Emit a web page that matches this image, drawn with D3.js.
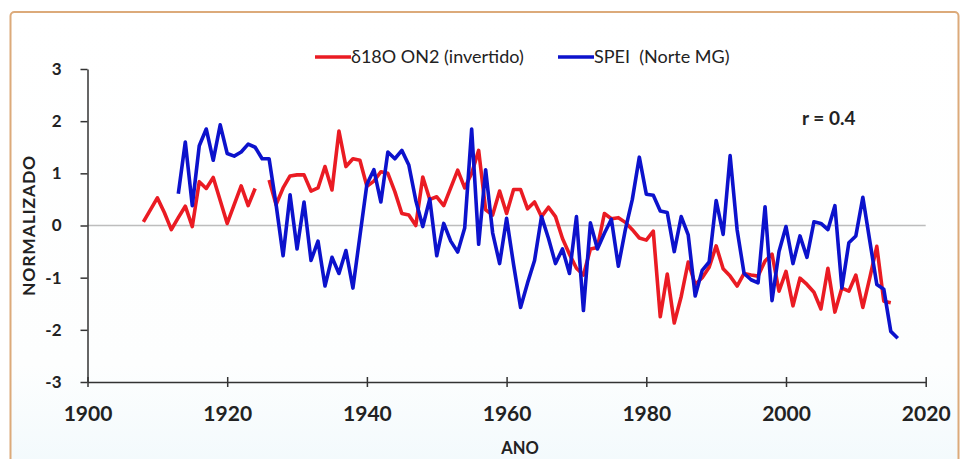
<!DOCTYPE html>
<html>
<head>
<meta charset="utf-8">
<script src="https://cdn.jsdelivr.net/npm/d3@7"></script>
<style>
	body { margin: 0; background: #fff; }
	text { font-family: Lato, "Open Sans", sans-serif; fill: #222; }
</style>
</head>
<body>
<div id="chart"></div>
<script>
// anos e series (valores normalizados)
var redYears = d3.range(1908, 2016);
var redValues = [
	0.07, 0.3, 0.53, 0.25, -0.08, 0.15, 0.37, -0.02, 0.84, 0.71,
	0.92, 0.48, 0.04, 0.4, 0.76, 0.38, 0.71, null, 0.87, 0.4,
	0.72, 0.95, 0.97, 0.97, 0.66, 0.72, 1.13, 0.68, 1.81, 1.13,
	1.28, 1.25, 0.75, 0.85, 1.03, 1.0, 0.65, 0.23, 0.2, 0.0,
	0.93, 0.5, 0.55, 0.38, 0.72, 1.06, 0.72, 1.0, 1.44, 0.3,
	0.2, 0.66, 0.23, 0.69, 0.69, 0.32, 0.45, 0.17, 0.35, 0.17,
	-0.25, -0.55, -0.82, -0.95, -0.45, -0.42, 0.23, 0.13, 0.15, 0.06,
	-0.08, -0.24, -0.28, -0.11, -1.75, -0.93, -1.87, -1.36, -0.7, -1.13,
	-1.0, -0.8, -0.39, -0.83, -0.97, -1.16, -0.92, -0.95, -0.97, -0.68,
	-0.55, -1.26, -0.88, -1.54, -1.01, -1.13, -1.28, -1.6, -0.82, -1.66,
	-1.2, -1.26, -0.95, -1.57, -1.0, -0.4, -1.45, -1.48
];
var blueYears = d3.range(1913, 2017);
var blueValues = [
	0.61, 1.6, 0.38, 1.53, 1.85, 1.25, 1.93, 1.38, 1.33, 1.41,
	1.56, 1.5, 1.28, 1.28, 0.4, -0.58, 0.59, -0.45, 0.45, -0.67,
	-0.3, -1.16, -0.61, -0.92, -0.48, -1.2, -0.2, 0.79, 1.07, 0.45,
	1.41, 1.28, 1.44, 1.16, 0.48, -0.02, 0.51, -0.58, 0.04, -0.3,
	-0.51, -0.05, 1.85, -0.36, 1.07, -0.14, -0.73, 0.14, -0.75, -1.57,
	-1.1, -0.67, 0.17, -0.25, -0.73, -0.45, -0.92, 0.17, -1.63, 0.05,
	-0.45, -0.15, 0.12, -0.78, -0.08, 0.5, 1.31, 0.6, 0.58, 0.28,
	0.25, -0.5, 0.17, -0.18, -1.35, -0.86, -0.7, 0.48, -0.17, 1.34,
	-0.08, -0.92, -1.04, -1.1, 0.36, -1.44, -0.5, -0.02, -0.73, -0.2,
	-0.61, 0.07, 0.04, -0.08, 0.38, -1.2, -0.33, -0.2, 0.54, -0.3,
	-1.13, -1.22, -2.03, -2.16
];
var xTicks = [1900, 1920, 1940, 1960, 1980, 2000, 2020];
var yTicks = [-3, -2, -1, 0, 1, 2, 3];
var seriesNames = ["\u03b418O ON2 (invertido)", "SPEI  (Norte MG)"];

var width = 961, height = 459;
var plotLeft = 87.5, plotRight = 925.7, plotTop = 69, plotBottom = 382;
var red = "#ea1b23", blue = "#0c12cc";

var svg = d3.select("#chart").append("svg")
	.attr("width", width)
	.attr("height", height);

var grad = svg.append("defs").append("linearGradient")
	.attr("id", "bg")
	.attr("x1", 0).attr("y1", 0).attr("x2", 0).attr("y2", 1);
grad.append("stop").attr("offset", "0%").attr("stop-color", "#ffffff");
grad.append("stop").attr("offset", "75%").attr("stop-color", "#fdfefe");
grad.append("stop").attr("offset", "100%").attr("stop-color", "#f1f9fc");

// area do grafico com borda
svg.append("rect")
	.attr("x", 10.5)
	.attr("y", 12)
	.attr("width", 948)
	.attr("height", 470)
	.attr("rx", 4)
	.attr("fill", "url(#bg)")
	.attr("stroke", "#dcaa7a")
	.attr("stroke-width", 2);

var x = d3.scaleLinear().domain([1900, 2020]).range([plotLeft, plotRight]);
var y = d3.scaleLinear().domain([-3, 3]).range([plotBottom, plotTop]);

// linha do zero
svg.append("line")
	.attr("x1", x(1900)).attr("x2", x(2020))
	.attr("y1", y(0)).attr("y2", y(0))
	.attr("stroke", "#bdbdbd")
	.attr("stroke-width", 1.5);

// hifen simples como no original (nao o sinal de menos unicode)
var plain = function(d) { return String(d); };

var yAxis = svg.append("g")
	.attr("transform", "translate(" + plotLeft + ",0)")
	.call(d3.axisLeft(y).tickValues(yTicks).tickSizeInner(7).tickSizeOuter(0)
		.tickPadding(19).tickFormat(plain));
yAxis.selectAll("text")
	.attr("font-size", 17)
	.attr("font-weight", 700)
	.attr("fill", "#222");

var xAxis = svg.append("g")
	.attr("transform", "translate(0," + plotBottom + ")")
	.call(d3.axisBottom(x).tickValues(xTicks).tickSizeInner(5).tickSizeOuter(0)
		.tickPadding(19).tickFormat(plain));
xAxis.selectAll(".tick line").attr("y1", -5);
xAxis.selectAll("text")
	.attr("font-size", 21)
	.attr("font-weight", 700)
	.attr("fill", "#222");

svg.selectAll(".domain, .tick line")
	.attr("stroke", "#333")
	.attr("stroke-width", 1.5);

svg.append("text")
	.attr("transform", "translate(35," + y(0) + ") rotate(-90)")
	.attr("text-anchor", "middle")
	.attr("font-size", 17.5)
	.attr("font-weight", 700)
	.attr("letter-spacing", 0.8)
	.text("NORMALIZADO");

svg.append("text")
	.attr("x", 520)
	.attr("y", 454)
	.attr("text-anchor", "middle")
	.attr("font-size", 16.5)
	.attr("font-weight", 700)
	.text("ANO");

var line = d3.line()
	.defined(function(d) { return d[1] !== null; })
	.x(function(d) { return x(d[0]); })
	.y(function(d) { return y(d[1]); });

function pairs(years, values) {
	return years.map(function(yr, i) { return [yr, values[i]]; });
}

svg.append("path")
	.datum(pairs(redYears, redValues))
	.attr("d", line)
	.attr("fill", "none")
	.attr("stroke", red)
	.attr("stroke-width", 3.6)
	.attr("stroke-linejoin", "round");

svg.append("path")
	.datum(pairs(blueYears, blueValues))
	.attr("d", line)
	.attr("fill", "none")
	.attr("stroke", blue)
	.attr("stroke-width", 3.6)
	.attr("stroke-linejoin", "round");

// legenda
var legend = svg.append("g").attr("transform", "translate(0,57)");
var legendItems = [
	{ name: seriesNames[0], color: red, x: 315 },
	{ name: seriesNames[1], color: blue, x: 558 }
];
legendItems.forEach(function(it) {
	legend.append("line")
		.attr("x1", it.x).attr("x2", it.x + 36)
		.attr("y1", 0).attr("y2", 0)
		.attr("stroke", it.color)
		.attr("stroke-width", 3.5);
	legend.append("text")
		.attr("x", it.x + 36)
		.attr("y", 6)
		.attr("font-size", 18)
		.style("white-space", "pre")
		.text(it.name);
});

svg.append("text")
	.attr("x", 802)
	.attr("y", 125)
	.attr("font-size", 19)
	.attr("font-weight", 700)
	.text("r = 0.4");
</script>
</body>
</html>
